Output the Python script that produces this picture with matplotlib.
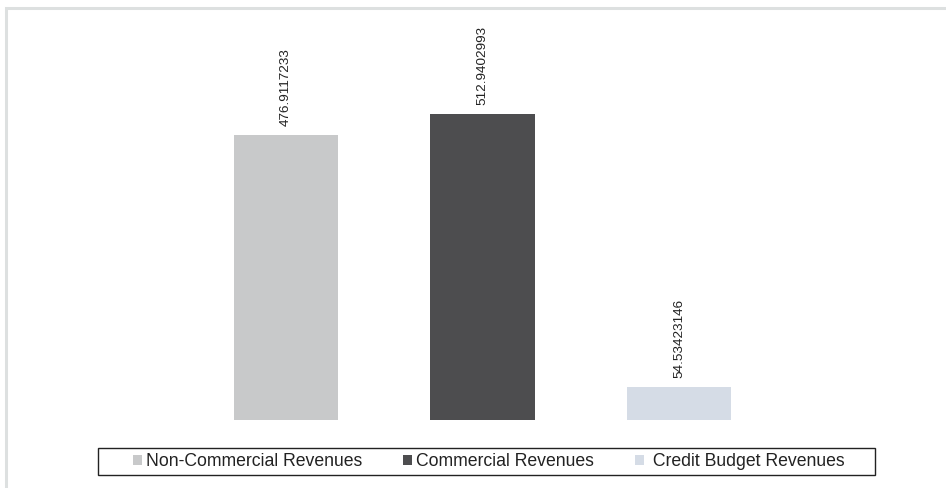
import matplotlib
matplotlib.use("Agg")
import matplotlib.pyplot as plt
from matplotlib.patches import Patch, Rectangle

categories = ["Non-Commercial Revenues", "Commercial Revenues", "Credit Budget Revenues"]
legend_labels = ["Non-Commercial Revenues", "Commercial Revenues", " Credit Budget Revenues"]
values = [476.9117233, 512.9402993, 54.53423146]
value_labels = ["476.9117233", "512.9402993", "54.53423146"]
colors = ["#c8c9ca", "#4d4d4f", "#d5dce6"]

plt.rcParams["font.family"] = ["Liberation Sans", "DejaVu Sans"]

W, H = 946, 488
fig = plt.figure(figsize=(W / 100, H / 100), dpi=100)

# light grey frame around the chart area, open on the right/bottom
fig.patches.append(Rectangle((6 / W, -0.1), 1.2, (H - 8) / H + 0.1,
                             transform=fig.transFigure, fill=False,
                             edgecolor="#dde0e0", linewidth=2.2))

ax = fig.add_axes((100 / W, (H - 420) / H, 776 / W, 400 / H))
x = list(range(len(values)))
ax.bar(x, values, width=0.53, color=colors)
for xi, v, lab in zip(x, values, value_labels):
    ax.annotate(lab, (xi, v), xytext=(0, 6.5), textcoords="offset points",
                rotation=90, ha="center", va="bottom", fontsize=9.7,
                color="#222222")
ax.set_xlim(-0.9466, 3.0025)
ax.set_ylim(0, 400 / 0.5966)
ax.set_axis_off()

# legend box drawn separately so it can be wider than the entries
fig.patches.append(Rectangle((98 / W, (H - 475) / H), 777 / W, 27 / H,
                             transform=fig.transFigure, fill=False,
                             edgecolor="#222222", linewidth=1.0))
handles = [Patch(facecolor=c, edgecolor="none") for c in colors]
leg = fig.legend(handles, legend_labels, loc="center", ncol=3,
                 bbox_to_anchor=(488.5 / W, (H - 461.5) / H),
                 frameon=False, fontsize=12.7,
                 handlelength=0.52, handleheight=0.52, handletextpad=0.22,
                 columnspacing=2.32, borderpad=0, borderaxespad=0)
for t in leg.get_texts():
    t.set_color("#222222")

fig.savefig("out.png", dpi=100)
